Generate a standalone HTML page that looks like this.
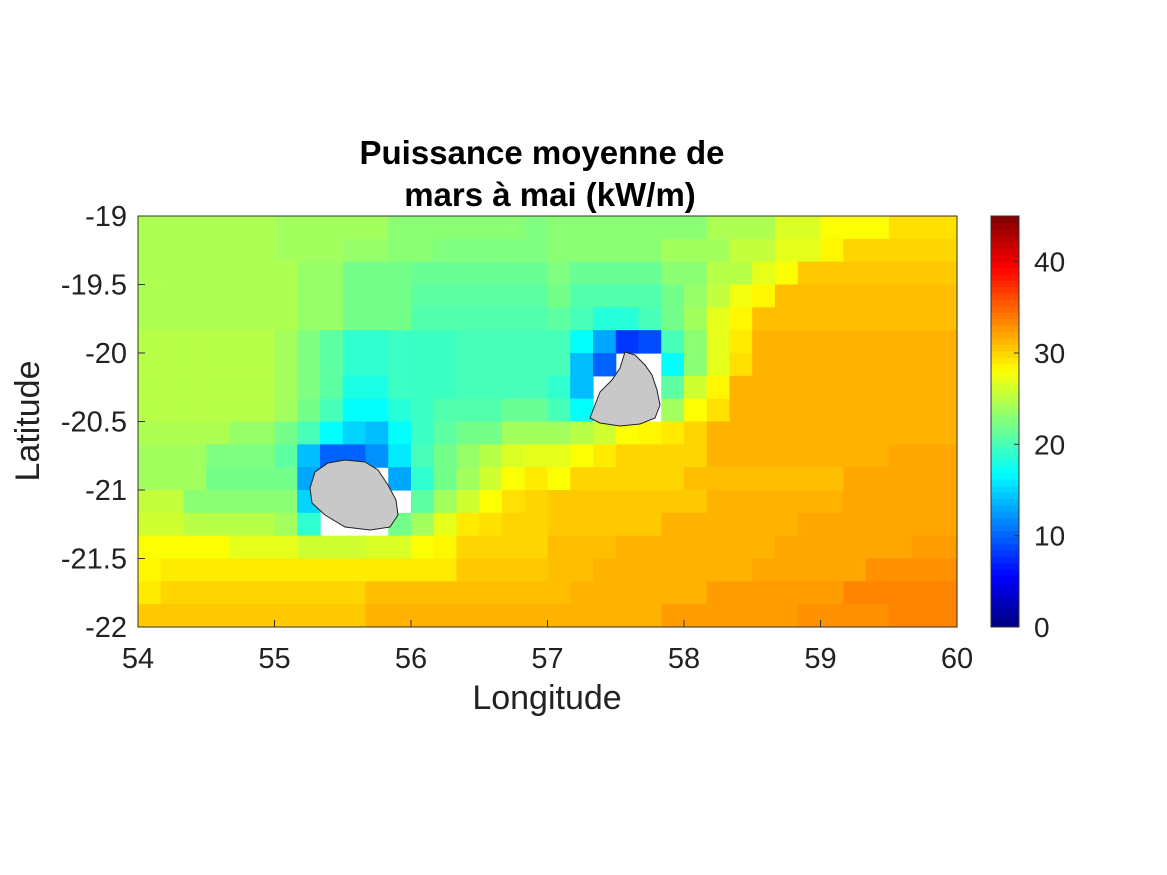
<!DOCTYPE html>
<html><head><meta charset="utf-8"><style>
html,body{margin:0;padding:0;background:#fff;}
svg{display:block;font-family:"Liberation Sans",sans-serif;}
</style></head><body>
<svg id="chart" width="1167" height="875" viewBox="0 0 1167 875">
<rect width="1167" height="875" fill="#fff"/>
<g id="cells"></g>
<g id="islands">
<polygon points="310,488 315,472 328,463 345,460 365,462 378,470 388,485 396,500 398,515 390,527 370,530 345,527 325,515 312,503" fill="#c8c8c8" stroke="#222" stroke-width="1"/>
<polygon points="625,352 635,355 645,365 652,375 657,390 660,405 655,418 640,424 620,426 600,423 590,418 595,405 600,392 612,380 620,368" fill="#c8c8c8" stroke="#222" stroke-width="1"/>
</g>
<rect x="138" y="216" width="819" height="411" fill="none" stroke="#333" stroke-width="1"/>
<g id="axes"></g>
<g id="cbar"></g>
<text x="542" y="164" text-anchor="middle" font-size="33" font-weight="bold">Puissance moyenne de</text>
<text x="550" y="206" text-anchor="middle" font-size="33" font-weight="bold">mars à mai (kW/m)</text>
<text x="547" y="709" text-anchor="middle" font-size="34" fill="#222">Longitude</text>
<text x="0" y="0" transform="translate(39,421) rotate(-90)" text-anchor="middle" font-size="34" fill="#222">Latitude</text>
</svg>
<script>
const lonMin = 54, lonMax = 60, latTop = -19, latBottom = -22;
const cellDeg = 1/6;
const xTickLabels = [54,55,56,57,58,59,60];
const yTickLabels = [-19,-19.5,-20,-20.5,-21,-21.5,-22];
const cbarTicks = [0,10,20,30,40];
const cMin = 0, cMax = 45;
const N = null;
const row0 = [24.5,24.5,24.5,24.5,24.5,24.5,24,24,24,24,24,23,23,23,23,23,23,22.5,23,23,23,23,23,23,23,24.5,24.5,24.5,26.5,26.5,28,28,28,29.5,29.5,29.5];
const row1 = [24.5,24.5,24.5,24.5,24.5,24.5,24,24,24,23.5,23.5,23,23,22.5,22.5,22.5,22.5,22.5,23,23,23,23,23,24,24,24,25.5,25.5,27,27,28.5,30,30,30,30,30];
const row2 = [24.5,24.5,24.5,24.5,24.5,24.5,24.5,23.5,23.5,22,22,22,21.5,21.5,21.5,21.5,21.5,21.5,22.5,21.5,21.5,21.5,21.5,23,23,25,25,27,28,30.5,30.5,30.5,30.5,30.5,30.5,30.5];
const row3 = [24.5,24.5,24.5,24.5,24.5,24.5,24.5,23.5,23.5,22,22,22,21,21,21,21,21,21,22,20.5,20.5,20.5,20.5,22,23.5,25.5,27.5,28.5,31,31,31,31,31,31,31,31];
const row4 = [24.5,24.5,24.5,24.5,24.5,24.5,24.5,23.5,23.5,22,22,22,20.5,20.5,20.5,20.5,20.5,20.5,21,20,18.5,18.5,20,22,24,27,28.5,31,31,31,31,31,31,31,31,31];
const row5 = [25,25,25,25,25,25,24,22.5,21,19,19,19.5,19.5,19.5,20,20,20,20,20,17,13,8,9,20,23,27,29,31.5,31.5,31.5,31.5,31.5,31.5,31.5,31.5,31.5];
const row6 = [25,25,25,25,25,25,24,22.5,21,19,19,19.5,19.5,19.5,20,20,20,20,20,14,10,N,N,17,23,27,29.5,31.5,31.5,31.5,31.5,31.5,31.5,31.5,31.5,31.5];
const row7 = [25,25,25,25,25,25,24,22.5,21,18,18,19.5,19.5,19.5,20,20,20,20,19,14,N,N,N,21,26,28.5,31.5,31.5,31.5,31.5,31.5,31.5,31.5,31.5,31.5,31.5];
const row8 = [25,25,25,25,25,25,24,22,20,17,17,18.5,19.5,20.5,20.5,20.5,21.5,21.5,20,17,N,N,N,24,28,29.5,31.5,31.5,31.5,31.5,31.5,31.5,31.5,31.5,31.5,31.5];
const row9 = [24.5,24.5,24.5,24.5,23.5,23.5,22,20,17,15,14,17,19.5,21,22,22,24,24,24,25,26,28,28.5,29,30,31.5,31.5,31.5,31.5,31.5,31.5,31.5,31.5,31.5,31.5,31.5];
const row10 = [24,24,24,22.5,22.5,22.5,21,14,10,10,12,16,20,22,23.5,25,26.5,27,27,28,29,30,30,30,30,31.5,31.5,31.5,31.5,31.5,31.5,31.5,31.5,32,32,32];
const row11 = [24,24,24,22,22,22,22,13,N,N,N,13,19,22,24,26,28,29,28,30,30,30,30,30,31,31,31,31,31,31,31,32,32,32,32,32];
const row12 = [25.5,25.5,23,23,23,23,23,15,N,N,N,N,21,24,26,28,29.5,30,30.5,30.5,30.5,30.5,30.5,30.5,30.5,31.5,31.5,31.5,31.5,31.5,31.5,32,32,32,32,32];
const row13 = [26,26,25,25,25,25,24,19,N,N,N,22,24,27,29,29.5,30,30,30.5,30.5,30.5,30.5,30.5,31.5,31.5,31.5,31.5,31.5,31.5,32,32,32,32,32,32,32];
const row14 = [28,28,28,28,27,27,27,26,26,26,26.5,26.5,28,28.5,30,30,30,30,31,31,31,31.5,31.5,31.5,31.5,31.5,31.5,31.5,32,32,32,32,32,32,32.5,32.5];
const row15 = [28.5,29,29,29,29,29,29,29,29,29,29,29,29,29,30.5,30.5,30.5,30.5,31,31,31.5,31.5,31.5,31.5,31.5,31.5,31.5,32,32,32,32,32,33,33,33,33];
const row16 = [29,30,30,30,30,30,30,30,30,30,31,31,31,31,31,31,31,31,31,31.5,31.5,31.5,31.5,31.5,31.5,32.5,32.5,32.5,32.5,32.5,32.5,33.5,33.5,33.5,33.5,33.5];
const row17 = [30.5,30.5,30.5,30.5,30.5,30.5,30.5,30.5,30.5,30.5,31.5,31.5,31.5,31.5,31.5,31.5,31.5,31.5,31.5,31.5,31.5,31.5,31.5,32.5,32.5,32.5,32.5,32.5,32.5,33,33,33,33,33.5,33.5,33.5];
const gridRows = [row0,row1,row2,row3,row4,row5,row6,row7,row8,row9,row10,row11,row12,row13,row14,row15,row16,row17];

const PX0 = 138, PX1 = 957, PY0 = 216, PY1 = 627;
const CBX = 991, CBW = 28;
function xScale(lon){ return PX0 + (lon - lonMin) / (lonMax - lonMin) * (PX1 - PX0); }
function yScale(lat){ return PY0 + (latTop - lat) / (latTop - latBottom) * (PY1 - PY0); }
function cScale(v){ return PY1 - (v - cMin) / (cMax - cMin) * (PY1 - PY0); }
function jet(v){
  let t = Math.max(0, Math.min(1, (v - cMin) / (cMax - cMin)));
  const f = (a)=>Math.max(0, Math.min(1, 1.5 - Math.abs(4*t - a)));
  const r = f(3), g = f(2), b = f(1);
  return 'rgb(' + Math.round(r*255) + ',' + Math.round(g*255) + ',' + Math.round(b*255) + ')';
}
const NS = 'http://www.w3.org/2000/svg';
function mk(tag, attrs){ const e = document.createElementNS(NS, tag); for (const k in attrs) e.setAttribute(k, attrs[k]); return e; }

const cells = document.getElementById('cells');
gridRows.forEach((row, ri) => {
  row.forEach((v, ci) => {
    if (v === null) return;
    const lon0 = lonMin + ci * cellDeg, lat0 = latTop - ri * cellDeg;
    const x0 = xScale(lon0), x1 = xScale(lon0 + cellDeg);
    const y0 = yScale(lat0), y1 = yScale(lat0 - cellDeg);
    const r = mk('rect', {x: x0, y: y0, width: x1 - x0 + 0.6, height: y1 - y0 + 0.6, fill: jet(v)});
    
    
    cells.appendChild(r);
  });
});

const axes = document.getElementById('axes');
xTickLabels.forEach(l => {
  const x = xScale(l);
  const tk = mk('line', {x1: x, x2: x, y1: PY1, y2: PY1 - 7, stroke: '#333'});
  
  
  axes.appendChild(tk);
  const t = mk('text', {x: x, y: 668, 'text-anchor': 'middle', 'font-size': 29, fill: '#222'});
  t.textContent = l;
  
  
  axes.appendChild(t);
});
yTickLabels.forEach(l => {
  const y = yScale(l);
  const tk = mk('line', {x1: PX0, x2: PX0 + 7, y1: y, y2: y, stroke: '#333'});
  
  
  axes.appendChild(tk);
  const t = mk('text', {x: 127, y: y + 10, 'text-anchor': 'end', 'font-size': 29, fill: '#222'});
  t.textContent = l;
  
  
  axes.appendChild(t);
});

const cbar = document.getElementById('cbar');
const steps = 64;
for (let i = 0; i < steps; i++) {
  const v0 = cMin + i * (cMax - cMin) / steps, v1 = v0 + (cMax - cMin) / steps;
  const r = mk('rect', {x: CBX, y: cScale(v1), width: CBW, height: cScale(v0) - cScale(v1) + 0.5, fill: jet((v0 + v1) / 2)});
  
  
  cbar.appendChild(r);
}
const cf = mk('rect', {x: CBX, y: PY0, width: CBW, height: PY1 - PY0, fill: 'none', stroke: '#333'});


cbar.appendChild(cf);
cbarTicks.forEach(v => {
  const y = cScale(v);
  const tk = mk('line', {x1: CBX + CBW - 5, x2: CBX + CBW, y1: y, y2: y, stroke: '#333'});
  
  
  cbar.appendChild(tk);
  const t = mk('text', {x: 1034, y: y + 10, 'font-size': 28, fill: '#222'});
  t.textContent = v;
  
  
  cbar.appendChild(t);
});
</script>
</body></html>
